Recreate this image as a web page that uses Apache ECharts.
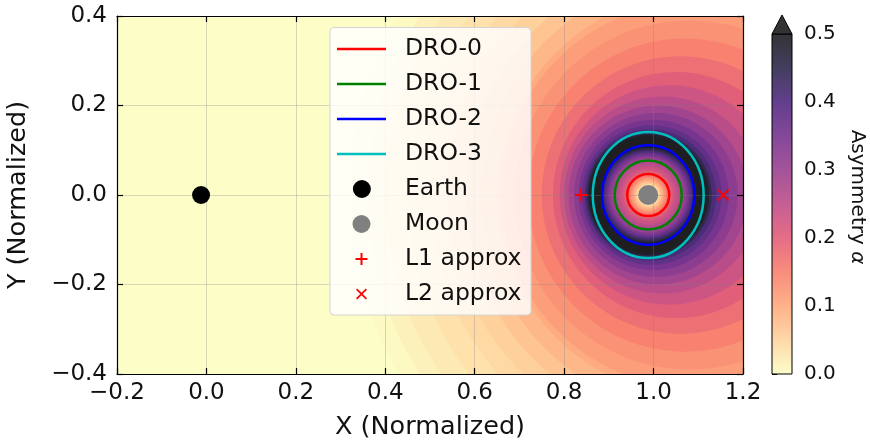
<!DOCTYPE html>
<html>
<head>
<meta charset="utf-8">
<script src="https://cdn.jsdelivr.net/npm/echarts@6/dist/echarts.min.js"></script>
<style>
  html, body { margin: 0; padding: 0; background: #fff; }
  #chart { width: 870px; height: 441px; }
</style>
</head>
<body>
<div id="chart"></div>
<script>
// axis ticks
const xTicks = [-0.2, 0.0, 0.2, 0.4, 0.6, 0.8, 1.0, 1.2];
const yTicks = [-0.4, -0.2, 0.0, 0.2, 0.4];
const cbarTicks = [0.0, 0.1, 0.2, 0.3, 0.4, 0.5];

// bodies [x, y]
const earthPos = [[-0.012, 0]];
const moonPos = [[0.988, 0]];
const l1Pos = [[0.838, 0]];
const l2Pos = [[1.156, 0]];

// DRO orbits: [centre x, centre y, half width, half height]
const dro0 = [[0.988, 0, 0.047, 0.047]];
const dro1 = [[0.988, 0, 0.075, 0.077]];
const dro2 = [[0.988, 0, 0.103, 0.111]];
const dro3 = [[0.988, 0, 0.124, 0.141]];

// asymmetry field, outer bands (alpha falls away from the Moon): [centre x, radius, alpha]
const outerBands = [
  [1.10, 0.78, 0.005],
  [1.10, 0.74, 0.015],
  [1.10, 0.70, 0.025],
  [1.10, 0.65, 0.035],
  [1.10, 0.60, 0.045],
  [1.10, 0.56, 0.055],
  [1.10, 0.52, 0.07],
  [1.10, 0.485, 0.085],
  [1.10, 0.45, 0.10],
  [1.09, 0.43, 0.115],
  [1.08, 0.39, 0.13],
  [1.07, 0.35, 0.15],
  [1.06, 0.31, 0.175],
  [1.05, 0.275, 0.20],
  [1.035, 0.245, 0.23],
  [1.02, 0.22, 0.26],
  [1.01, 0.20, 0.29],
  [1.005, 0.183, 0.32],
  [1.0, 0.168, 0.35],
  [0.996, 0.156, 0.38],
  [0.993, 0.147, 0.41],
  [0.99, 0.14, 0.45],
  [0.989, 0.135, 0.49],
  [0.988, 0.13, 0.55]
];
// inner bands (alpha drops again towards the Moon): [centre x, radius, alpha]
const innerBands = [
  [0.988, 0.112, 0.50],
  [0.988, 0.105, 0.45],
  [0.988, 0.100, 0.41],
  [0.988, 0.095, 0.37],
  [0.988, 0.090, 0.34],
  [0.988, 0.085, 0.31],
  [0.988, 0.080, 0.29],
  [0.988, 0.075, 0.27],
  [0.988, 0.070, 0.255],
  [0.988, 0.065, 0.24],
  [0.988, 0.060, 0.225],
  [0.988, 0.055, 0.205],
  [0.988, 0.050, 0.185],
  [0.988, 0.045, 0.16],
  [0.988, 0.040, 0.13],
  [0.988, 0.035, 0.10],
  [0.988, 0.030, 0.07],
  [0.988, 0.025, 0.045],
  [0.988, 0.020, 0.025]
];
const cbarRange = [[0, 0.5]];

const FONT = 'DejaVu Sans';
const MAGMA = ['#000004', '#140e36', '#3b0f70', '#641a80', '#8c2981', '#b73779',
  '#de4968', '#f7705c', '#fe9f6d', '#fecf92', '#fcfdbf'];

function hexRgb(h) {
  return [1, 3, 5].map(i => parseInt(h.substr(i, 2), 16));
}
// magma_r on [0, 0.5], mixed with white by (1 - keep)
function alphaColor(a, keep) {
  const t = 1 - Math.min(Math.max(a / 0.5, 0), 1);
  const p = t * 10;
  const i = Math.min(Math.floor(p), 9);
  const f = p - i;
  const c0 = hexRgb(MAGMA[i]), c1 = hexRgb(MAGMA[i + 1]);
  const rgb = c0.map((v, k) => Math.round((v + (c1[k] - v) * f) * keep + 255 * (1 - keep)));
  return 'rgb(' + rgb.join(',') + ')';
}
const fmt = v => v.toFixed(1).replace('-', '\u2212');

const LINE_ICON = 'path://M0,0M63,18M0,7.75H49V10.25H0Z';
const EARTH_ICON = 'path://M0,0M63,18M15,9A9.5,9.5,0,1,1,34,9A9.5,9.5,0,1,1,15,9Z';
const MOON_ICON = 'path://M0,0M63,18M15.5,9A9,9,0,1,1,33.5,9A9,9,0,1,1,15.5,9Z';
const PLUS_ICON = 'path://M0,0M63,18M23.5,3H25.5V15H23.5Z M18.5,8H30.5V10H18.5Z';
const CROSS_ICON = 'path://M0,0M63,18M19,4.7L20.2,3.5L30,13.3L28.8,14.5Z M28.8,3.5L30,4.7L20.2,14.5L19,13.3Z';
const PLUS_SYM = 'path://M5.5,0H7.5V13H5.5Z M0,5.5H13V7.5H0Z';
const CROSS_SYM = 'path://M0,1.3L1.3,0L12,10.7L10.7,12Z M10.7,0L12,1.3L1.3,12L0,10.7Z';

function fieldItem(params, api) {
  const c = api.coord([api.value(0), 0]);
  const r = api.value(1);
  return {
    type: 'ellipse',
    shape: { cx: c[0], cy: c[1], rx: api.size([r, 0])[0], ry: api.size([0, r])[1] },
    style: { fill: alphaColor(api.value(2), 0.88) }
  };
}
function orbitItem(params, api) {
  const c = api.coord([api.value(0), api.value(1)]);
  return {
    type: 'ellipse',
    shape: { cx: c[0], cy: c[1], rx: api.size([api.value(2), 0])[0], ry: api.size([0, api.value(3)])[1] },
    style: { fill: 'none', stroke: api.visual('color'), lineWidth: 2.5 }
  };
}
function cbarItem(params, api) {
  const lo = api.coord([0, api.value(0)]);
  const hi = api.coord([1, api.value(1)]);
  const stops = [];
  for (let k = 0; k <= 20; k++) {
    stops.push({ offset: k / 20, color: alphaColor(0.5 - k * 0.025, 0.8) });
  }
  return {
    type: 'group',
    children: [
      { type: 'rect', shape: { x: lo[0], y: hi[1], width: hi[0] - lo[0], height: lo[1] - hi[1] },
        style: { fill: { type: 'linear', x: 0, y: 0, x2: 0, y2: 1, colorStops: stops }, stroke: '#000', lineWidth: 1 } },
      { type: 'polygon', shape: { points: [[lo[0], hi[1]], [hi[0], hi[1]], [(lo[0] + hi[0]) / 2, hi[1] - 19]] },
        style: { fill: alphaColor(0.6, 0.8), stroke: '#000', lineWidth: 1 } }
    ]
  };
}

const axisLine = { show: true, onZero: false, lineStyle: { color: '#000', width: 1.2 } };
const tickIn = { show: true, inside: true, length: 6, lineStyle: { color: '#000', width: 1.2 } };
const gridLine = { show: true, lineStyle: { color: 'rgba(128,128,128,0.3)', width: 1 } };
const tickFont = { fontSize: 23, color: '#111', fontFamily: FONT };

const chart = echarts.init(document.getElementById('chart'));
chart.setOption({
  animation: false,
  backgroundColor: '#fff',
  grid: [
    { left: 117, top: 16, width: 626, height: 358, show: true, borderWidth: 0,
      outerBoundsMode: 'none', containLabel: false,
      backgroundColor: alphaColor(0, 0.88) },
    { left: 772, top: 34, width: 20, height: 340, outerBoundsMode: 'none', containLabel: false }
  ],
  xAxis: [
    { gridIndex: 0, type: 'value', min: xTicks[0], max: xTicks[xTicks.length - 1], interval: 0.2,
      position: 'bottom', z: 3, axisLine, axisTick: tickIn, splitLine: gridLine,
      axisLabel: Object.assign({ margin: 8, formatter: fmt }, tickFont),
      name: 'X (Normalized)', nameLocation: 'middle', nameGap: 40,
      nameTextStyle: { fontSize: 25.5, color: '#111', fontFamily: FONT } },
    { gridIndex: 0, type: 'value', min: xTicks[0], max: xTicks[xTicks.length - 1], interval: 0.2,
      position: 'top', z: 3, axisLine, axisTick: tickIn, splitLine: { show: false },
      axisLabel: { show: false } },
    { gridIndex: 1, type: 'value', min: 0, max: 1, show: false }
  ],
  yAxis: [
    { gridIndex: 0, type: 'value', min: yTicks[0], max: yTicks[yTicks.length - 1], interval: 0.2,
      position: 'left', z: 3, axisLine, axisTick: tickIn, splitLine: gridLine,
      axisLabel: Object.assign({ margin: 10, formatter: fmt }, tickFont),
      name: 'Y (Normalized)', nameLocation: 'middle', nameGap: 86, nameRotate: 90,
      nameTextStyle: { fontSize: 25.5, color: '#111', fontFamily: FONT } },
    { gridIndex: 0, type: 'value', min: yTicks[0], max: yTicks[yTicks.length - 1], interval: 0.2,
      position: 'right', z: 3, axisLine, axisTick: tickIn, splitLine: { show: false },
      axisLabel: { show: false } },
    { gridIndex: 1, type: 'value', min: cbarTicks[0], max: cbarTicks[cbarTicks.length - 1], interval: 0.1,
      position: 'right', axisLine: { show: false },
      axisTick: { show: true, inside: false, length: 5, lineStyle: { color: '#000', width: 1 } },
      splitLine: { show: false },
      axisLabel: { margin: 12, fontSize: 20, color: '#111', fontFamily: FONT, formatter: v => v.toFixed(1) } }
  ],
  legend: {
    orient: 'vertical', left: 337, top: 37, padding: 0,
    itemWidth: 63, itemHeight: 18, itemGap: 11, selectedMode: false, z: 20,
    textStyle: { fontSize: 23.5, lineHeight: 18, color: '#111', fontFamily: FONT },
    data: [
      { name: 'DRO-0', icon: LINE_ICON },
      { name: 'DRO-1', icon: LINE_ICON },
      { name: 'DRO-2', icon: LINE_ICON },
      { name: 'DRO-3', icon: LINE_ICON },
      { name: 'Earth', icon: EARTH_ICON },
      { name: 'Moon', icon: MOON_ICON },
      { name: 'L1 approx', icon: PLUS_ICON },
      { name: 'L2 approx', icon: CROSS_ICON }
    ]
  },
  graphic: [
    { type: 'rect', z: 15, shape: { x: 330, y: 27.5, width: 201, height: 287.5, r: 4 },
      style: { fill: 'rgba(255,255,255,0.82)', stroke: '#d4d4d4', lineWidth: 1 } },
    { type: 'text', z: 15, x: 857, y: 197, rotation: -Math.PI / 2,
      style: { text: '{n|Asymmetry }{a|α}', textAlign: 'center', textVerticalAlign: 'middle',
        rich: { n: { fontSize: 20, fontFamily: FONT, fill: '#111' },
                a: { fontSize: 20, fontFamily: FONT, fontStyle: 'italic', fill: '#111' } } } }
  ],
  series: [
    { type: 'custom', name: 'field', xAxisIndex: 0, yAxisIndex: 0, z: 1, clip: true, silent: true,
      renderItem: fieldItem, data: outerBands.concat(innerBands) },
    { type: 'custom', name: 'DRO-0', z: 4, clip: true, itemStyle: { color: '#ff0000' }, renderItem: orbitItem, data: dro0 },
    { type: 'custom', name: 'DRO-1', z: 4, clip: true, itemStyle: { color: '#008000' }, renderItem: orbitItem, data: dro1 },
    { type: 'custom', name: 'DRO-2', z: 4, clip: true, itemStyle: { color: '#0000ff' }, renderItem: orbitItem, data: dro2 },
    { type: 'custom', name: 'DRO-3', z: 4, clip: true, itemStyle: { color: '#00bfbf' }, renderItem: orbitItem, data: dro3 },
    { type: 'scatter', name: 'Earth', z: 5, symbol: 'circle', symbolSize: 18,
      itemStyle: { color: '#000', opacity: 1 }, data: earthPos },
    { type: 'scatter', name: 'Moon', z: 5, symbol: 'circle', symbolSize: 20,
      itemStyle: { color: '#808080', opacity: 1 }, data: moonPos },
    { type: 'scatter', name: 'L1 approx', z: 5, symbol: PLUS_SYM, symbolSize: 13,
      itemStyle: { color: '#ff0000', opacity: 1 }, data: l1Pos },
    { type: 'scatter', name: 'L2 approx', z: 5, symbol: CROSS_SYM, symbolSize: 12,
      itemStyle: { color: '#ff0000', opacity: 1 }, data: l2Pos },
    { type: 'custom', name: 'colorbar', xAxisIndex: 2, yAxisIndex: 2, silent: true,
      renderItem: cbarItem, data: cbarRange }
  ]
});
</script>
</body>
</html>
